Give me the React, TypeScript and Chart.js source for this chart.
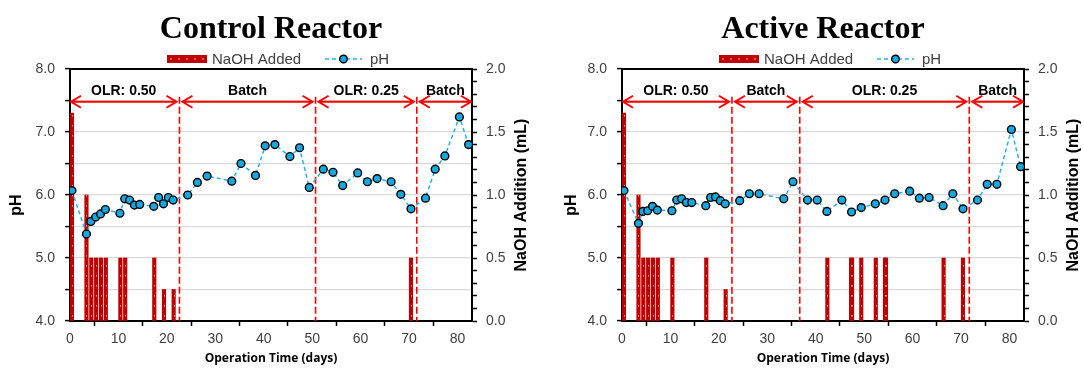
import React, { useEffect, useRef } from "react";
import { Chart, registerables } from "chart.js";

Chart.register(...registerables);

// ---------------- data ----------------
const phDays = [0.4, 3.4, 4.3, 5.3, 6.3, 7.3, 10.3, 11.3, 12.3, 13.3, 14.4, 17.3, 18.3, 19.3, 20.3, 21.3, 24.3, 26.3, 28.3, 33.4, 35.3, 38.3, 40.3, 42.3, 45.4, 47.4, 49.4, 52.3, 54.3, 56.3, 59.4, 61.4, 63.4, 66.3, 68.3, 70.4, 73.4, 75.4, 77.4, 80.4, 82.3];

const controlPH = [6.07, 5.38, 5.58, 5.65, 5.7, 5.77, 5.71, 5.94, 5.92, 5.84, 5.85, 5.82, 5.96, 5.86, 5.96, 5.92, 6.0, 6.2, 6.3, 6.22, 6.5, 6.31, 6.78, 6.8, 6.61, 6.75, 6.12, 6.41, 6.36, 6.15, 6.35, 6.21, 6.26, 6.21, 6.01, 5.78, 5.95, 6.41, 6.62, 7.24, 6.8];
const activePH = [6.07, 5.55, 5.74, 5.75, 5.82, 5.76, 5.75, 5.92, 5.94, 5.88, 5.88, 5.83, 5.96, 5.97, 5.91, 5.86, 5.91, 6.02, 6.02, 5.94, 6.21, 5.92, 5.92, 5.74, 5.92, 5.73, 5.8, 5.86, 5.92, 6.02, 6.06, 5.95, 5.96, 5.83, 6.02, 5.78, 5.92, 6.17, 6.17, 7.04, 6.45];

const controlNaohDays = [0.4, 3.4, 4.4, 5.4, 6.4, 7.4, 10.4, 11.4, 17.4, 19.4, 21.4, 70.4];
const controlNaohML = [1.65, 1.0, 0.5, 0.5, 0.5, 0.5, 0.5, 0.5, 0.5, 0.25, 0.25, 0.5];
const activeNaohDays = [0.4, 3.4, 4.4, 5.4, 6.4, 7.4, 10.4, 17.4, 21.4, 42.4, 47.3, 47.5, 49.4, 52.4, 54.3, 54.5, 66.4, 70.4];
const activeNaohML = [1.65, 1.0, 0.5, 0.5, 0.5, 0.5, 0.5, 0.5, 0.25, 0.5, 0.5, 0.5, 0.5, 0.5, 0.5, 0.5, 0.5, 0.5];

const phaseLabels = ["OLR: 0.50", "Batch", "OLR: 0.25", "Batch"];
const controlPhaseBounds = [0, 22.6, 50.7, 71.6, 83];
const activePhaseBounds = [0, 22.7, 36.7, 71.7, 83];

const phTicks = [4, 8, 0.5];
const mlTicks = [0, 2, 0.1];
const dayTicks = [0, 83, 10];

// ---------------- styles ----------------
const RED = "#ff0000";
const BAR_RED = "#c00000";
const LINE_BLUE = "#22b2ee";
const POINT_BLUE = "#18a8e0";
const TICK_COLOR = "#404040";
const SANS = '"Liberation Sans", Arial, sans-serif';
const ARROW_PH = 7.48;
const DIVIDER_TOP_PH = 7.56;

type Props = {
  title: string;
  ph: number[];
  naohDays: number[];
  naohML: number[];
  bounds: number[];
  leftW: number;
  rightW: number;
  phTitleOffset: number;
};

function ReactorChart(p: Props) {
  const ref = useRef<HTMLCanvasElement>(null);
  useEffect(() => {
    const canvas = ref.current;
    if (!canvas) return;

    const annot = {
      id: "annot" + p.title.replace(/\s/g, ""),
      beforeDatasetsDraw(chart: any) {
        const { ctx, chartArea: ca, scales } = chart;
        const x = scales.x, y = scales.y;
        ctx.save();
        ctx.strokeStyle = RED;
        ctx.lineWidth = 1.6;
        ctx.setLineDash([7, 3]);
        const yt = y.getPixelForValue(DIVIDER_TOP_PH);
        p.bounds.slice(1, -1).forEach((b) => {
          const px = x.getPixelForValue(b);
          ctx.beginPath();
          ctx.moveTo(px, yt);
          ctx.lineTo(px, ca.bottom);
          ctx.stroke();
        });
        ctx.restore();
      },
      afterDatasetDraw(chart: any, args: any) {
        if (args.index !== 1) return;
        const { ctx } = chart;
        ctx.save();
        ctx.strokeStyle = "rgba(255,255,255,0.6)";
        ctx.lineWidth = 1;
        ctx.setLineDash([1.5, 8.5]);
        args.meta.data.forEach((bar: any) => {
          const bx = Math.round(bar.x) + 0.5;
          ctx.beginPath();
          ctx.moveTo(bx, bar.base - 4);
          ctx.lineTo(bx, bar.y);
          ctx.stroke();
        });
        ctx.restore();
      },
      afterDraw(chart: any) {
        const { ctx, chartArea: ca, scales } = chart;
        const x = scales.x, y = scales.y;
        const cx = (ca.left + ca.right) / 2;
        ctx.save();
        // top frame
        ctx.strokeStyle = "#000";
        ctx.lineWidth = 2;
        ctx.beginPath();
        ctx.moveTo(ca.left - 1, ca.top);
        ctx.lineTo(ca.right + 1, ca.top);
        ctx.stroke();

        // phase arrows
        const ay = y.getPixelForValue(ARROW_PH);
        ctx.strokeStyle = RED;
        ctx.lineWidth = 2;
        ctx.fillStyle = "#000";
        ctx.font = "bold 14px " + SANS;
        ctx.textAlign = "center";
        ctx.textBaseline = "alphabetic";
        for (let i = 0; i < p.bounds.length - 1; i++) {
          const g0 = i === 0 ? 1 : 3;
          const g1 = i === p.bounds.length - 2 ? 1 : 3;
          const x0 = x.getPixelForValue(p.bounds[i]) + g0;
          const x1 = x.getPixelForValue(p.bounds[i + 1]) - g1;
          ctx.beginPath();
          ctx.moveTo(x0, ay);
          ctx.lineTo(x1, ay);
          ctx.moveTo(x0 + 10, ay - 6);
          ctx.lineTo(x0, ay);
          ctx.lineTo(x0 + 10, ay + 6);
          ctx.moveTo(x1 - 10, ay - 6);
          ctx.lineTo(x1, ay);
          ctx.lineTo(x1 - 10, ay + 6);
          ctx.stroke();
          ctx.fillText(phaseLabels[i], (x0 + x1) / 2, ay - 7);
        }

        // title
        ctx.fillStyle = "#000";
        ctx.font = 'bold 32px "Liberation Serif", "Times New Roman", serif';
        ctx.textAlign = "center";
        ctx.fillText(p.title, cx, 38);

        // legend
        const ly = 59;
        ctx.fillStyle = BAR_RED;
        ctx.fillRect(cx - 104, ly - 4, 40, 8);
        ctx.fillStyle = "rgba(255,255,255,0.7)";
        for (let k = 0; k < 5; k++) ctx.fillRect(cx - 101 + k * 8, ly - 0.5, 2, 1);
        ctx.fillStyle = TICK_COLOR;
        ctx.font = "15px " + SANS;
        ctx.textAlign = "left";
        ctx.fillText("NaOH Added", cx - 59, ly + 5);
        ctx.strokeStyle = LINE_BLUE;
        ctx.lineWidth = 1.5;
        ctx.setLineDash([4, 3]);
        ctx.beginPath();
        ctx.moveTo(cx + 54, ly);
        ctx.lineTo(cx + 91, ly);
        ctx.stroke();
        ctx.setLineDash([]);
        ctx.beginPath();
        ctx.arc(cx + 72.5, ly, 3.8, 0, Math.PI * 2);
        ctx.fillStyle = POINT_BLUE;
        ctx.fill();
        ctx.strokeStyle = "#000";
        ctx.lineWidth = 1.4;
        ctx.stroke();
        ctx.fillStyle = TICK_COLOR;
        ctx.fillText("pH", cx + 99, ly + 5);

        // axis titles
        ctx.fillStyle = "#000";
        ctx.textAlign = "center";
        ctx.textBaseline = "middle";
        ctx.font = 'bold 12px "Open Sans", sans-serif';
        ctx.fillText("Operation Time (days)", cx, 359);
        ctx.font = "bold 16px " + SANS;
        ctx.save();
        ctx.translate(ca.left + p.phTitleOffset, 205);
        ctx.rotate(-Math.PI / 2);
        ctx.fillText("pH", 0, 0);
        ctx.restore();
        ctx.save();
        ctx.translate(ca.right + 50, 195);
        ctx.rotate(-Math.PI / 2);
        ctx.fillText("NaOH Addition (mL)", 0, 0);
        ctx.restore();
        ctx.restore();
      },
    };

    const chart = new Chart(canvas, {
      type: "line",
      data: {
        datasets: [
          {
            type: "line",
            label: "pH",
            data: phDays.map((d, i) => ({ x: d, y: p.ph[i] })),
            xAxisID: "x",
            yAxisID: "y",
            borderColor: LINE_BLUE,
            borderWidth: 1.5,
            borderDash: [4, 3],
            pointRadius: 3.9,
            pointBackgroundColor: POINT_BLUE,
            pointBorderColor: "#000",
            pointBorderWidth: 1.4,
            tension: 0,
            order: 0,
          } as any,
          {
            type: "bar",
            label: "NaOH Added",
            data: p.naohDays.map((d, i) => ({ x: d, y: p.naohML[i] })),
            xAxisID: "x",
            yAxisID: "y1",
            backgroundColor: BAR_RED,
            borderWidth: 0,
            barThickness: 3.5,
            grouped: false,
            order: 1,
          } as any,
        ],
      },
      options: {
        animation: false,
        responsive: false,
        devicePixelRatio: 1,
        layout: { padding: { top: 69, left: 0, right: 0, bottom: 0 } },
        plugins: { legend: { display: false }, title: { display: false }, tooltip: { enabled: false } },
        scales: {
          x: {
            type: "linear",
            position: "bottom",
            min: dayTicks[0],
            max: dayTicks[1],
            offset: false,
            ticks: {
              stepSize: dayTicks[2],
              includeBounds: false,
              autoSkip: false,
              maxRotation: 0,
              padding: 5,
              color: TICK_COLOR,
              font: { family: SANS, size: 14 },
            },
            grid: { drawOnChartArea: false, drawTicks: true, tickLength: 5, tickColor: "#000", tickWidth: 1.5 },
            border: { color: "#000", width: 2 },
            afterFit: (s: any) => { s.height = 49; },
          } as any,
          y: {
            type: "linear",
            position: "left",
            min: phTicks[0],
            max: phTicks[1],
            ticks: {
              stepSize: phTicks[2],
              includeBounds: false,
              autoSkip: false,
              padding: 10,
              color: TICK_COLOR,
              font: { family: SANS, size: 14 },
              callback: (v: any) => (Math.abs(v - Math.round(v)) < 1e-6 ? Number(v).toFixed(1) : ""),
            },
            grid: {
              color: (c: any) => {
                const v = c.tick ? c.tick.value : 0;
                return v <= 4 || v >= 8 ? "rgba(0,0,0,0)" : "#d9d9d9";
              },
              lineWidth: 1.2,
              drawTicks: true,
              tickLength: 5,
              tickColor: "#000",
              tickWidth: 1.5,
            },
            border: { color: "#000", width: 2 },
            afterFit: (s: any) => { s.width = p.leftW; },
          } as any,
          y1: {
            type: "linear",
            position: "right",
            min: mlTicks[0],
            max: mlTicks[1],
            ticks: {
              stepSize: mlTicks[2],
              includeBounds: false,
              autoSkip: false,
              padding: 9,
              color: TICK_COLOR,
              font: { family: SANS, size: 14 },
              callback: (v: any) => (Math.abs(v * 2 - Math.round(v * 2)) < 1e-6 ? Number(v).toFixed(1) : ""),
            },
            grid: { drawOnChartArea: false, drawTicks: true, tickLength: 5, tickColor: "#000", tickWidth: 1.5 },
            border: { color: "#000", width: 2 },
            afterFit: (s: any) => { s.width = p.rightW; },
          } as any,
        },
      },
      plugins: [annot],
    } as any);
    return () => chart.destroy();
  }, []);
  return <canvas ref={ref} width={542} height={370} style={{ display: "block", width: 542, height: 370 }} />;
}

export default function App() {
  return (
    <div style={{ position: "absolute", left: 0, top: 0, width: 1084, height: 370, display: "flex", background: "#fff" }}>
      <ReactorChart title="Control Reactor" ph={controlPH} naohDays={controlNaohDays} naohML={controlNaohML} bounds={controlPhaseBounds} leftW={70} rightW={70} phTitleOffset={-53} />
      <ReactorChart title="Active Reactor" ph={activePH} naohDays={activeNaohDays} naohML={activeNaohML} bounds={activePhaseBounds} leftW={80} rightW={60} phTitleOffset={-50} />
    </div>
  );
}
